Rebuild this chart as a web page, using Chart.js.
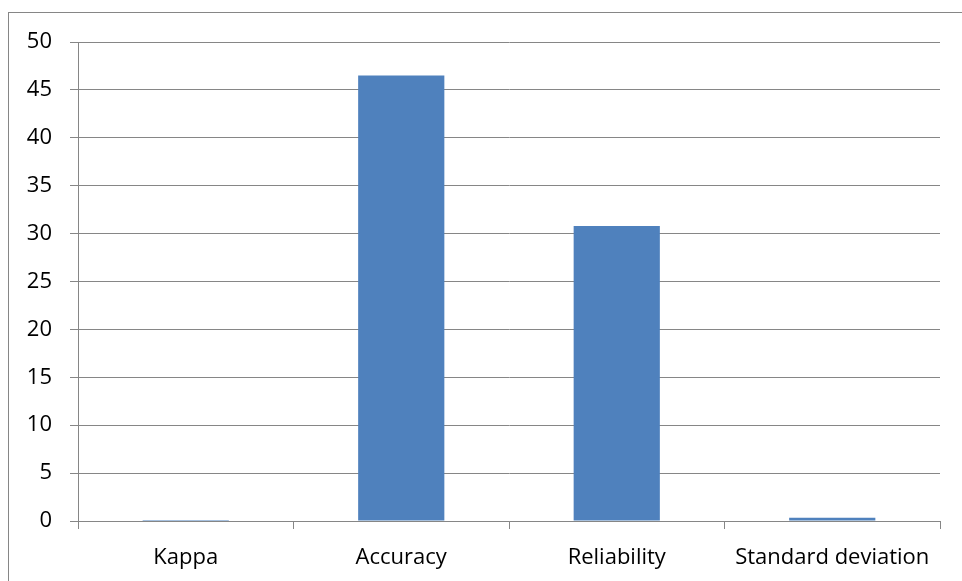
<!DOCTYPE html>
<html>
<head>
<meta charset="utf-8">
<script src="https://cdn.jsdelivr.net/npm/chart.js@4/dist/chart.umd.min.js"></script>
<style>
  html, body { margin: 0; padding: 0; background: #ffffff; }
  #wrap { width: 962px; height: 581px; }
</style>
</head>
<body>
<div id="wrap"><canvas id="chart" width="962" height="581"></canvas></div>
<script>
// Measures shown on the horizontal axis
const categories = ['Kappa', 'Accuracy', 'Reliability', 'Standard deviation'];
// Value for each measure
const values = [0.1, 46.5, 30.8, 0.35];
// Vertical axis range and step
const yMin = 0;
const yMax = 50;
const yStep = 5;

const axisGray = '#868686';
const barBlue = '#4F81BD';
const labelFont = { family: '"Open Sans", "Liberation Sans", sans-serif', size: 22 };

// Thin frame around the whole chart (runs off the right and bottom edges)
const frame = {
  id: 'frame',
  beforeDraw(chart) {
    const ctx = chart.ctx;
    ctx.save();
    ctx.fillStyle = '#ffffff';
    ctx.fillRect(0, 0, chart.width, chart.height);
    ctx.strokeStyle = axisGray;
    ctx.lineWidth = 1;
    ctx.strokeRect(8.5, 12.5, 2000, 2000);
    ctx.restore();
  }
};

new Chart(document.getElementById('chart'), {
  type: 'bar',
  data: {
    labels: categories,
    datasets: [{
      data: values,
      backgroundColor: barBlue,
      borderWidth: 0,
      barPercentage: 0.4,
      categoryPercentage: 1.0
    }]
  },
  plugins: [frame],
  options: {
    responsive: false,
    animation: false,
    devicePixelRatio: 1,
    layout: { padding: { left: 0, top: 42, right: 22, bottom: 0 } },
    plugins: {
      legend: { display: false },
      tooltip: { enabled: false }
    },
    scales: {
      x: {
        grid: {
          offset: true,
          drawOnChartArea: false,
          drawTicks: true,
          tickLength: 8,
          color: axisGray
        },
        border: { display: true, color: axisGray, width: 1 },
        ticks: {
          font: labelFont,
          color: '#000000',
          padding: 16,
          maxRotation: 0,
          autoSkip: false
        },
        afterFit(scale) { scale.height = 60; }
      },
      y: {
        min: yMin,
        max: yMax,
        grid: {
          color: axisGray,
          drawTicks: true,
          tickLength: 8
        },
        border: { display: true, color: axisGray, width: 1 },
        ticks: {
          stepSize: yStep,
          font: labelFont,
          color: '#000000',
          padding: 18
        },
        afterFit(scale) { scale.width = 78; }
      }
    }
  }
});
</script>
</body>
</html>
